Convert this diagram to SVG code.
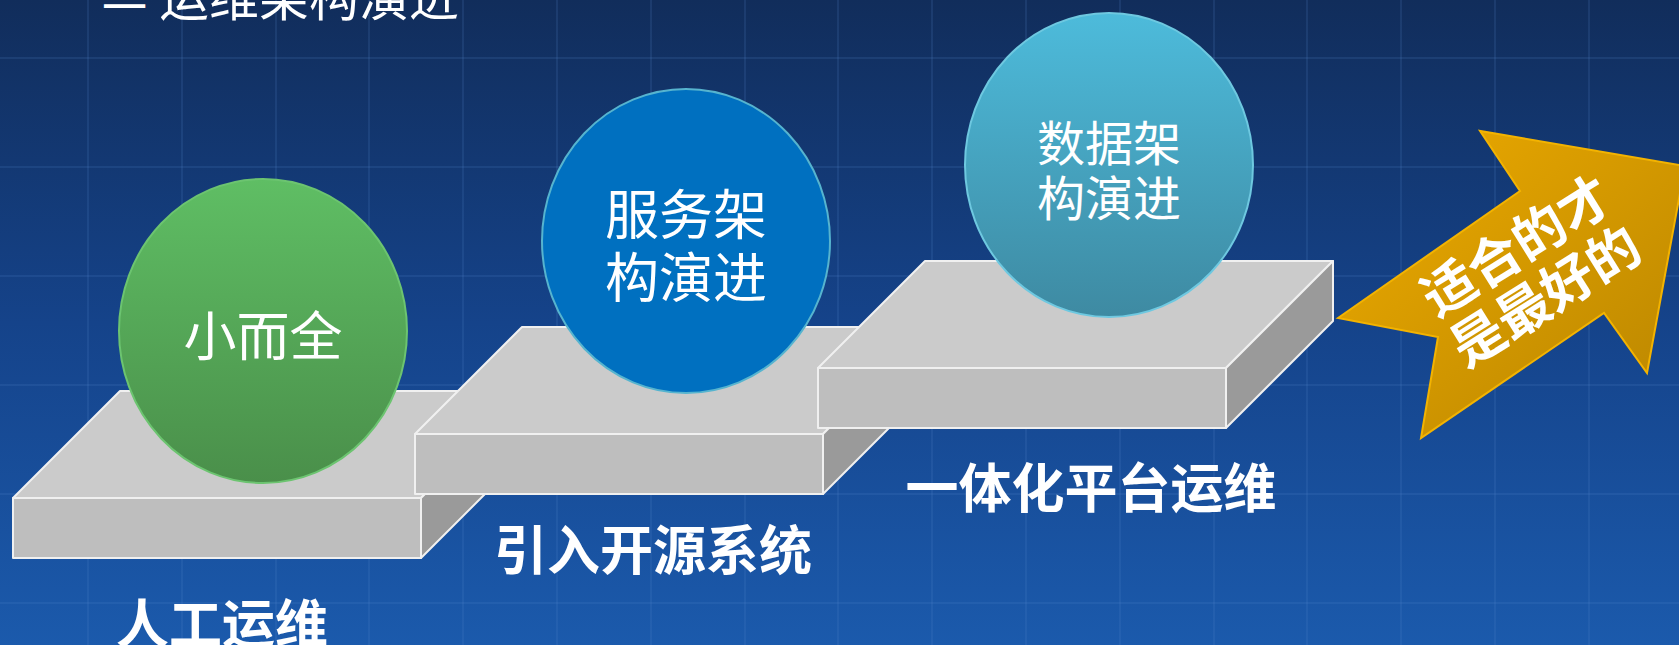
<svg xmlns="http://www.w3.org/2000/svg" xmlns:xlink="http://www.w3.org/1999/xlink" width="1679" height="645" viewBox="0 0 1679 645">
  <style>
    .cjk { font-family: "Noto Sans CJK SC", "Noto Sans", sans-serif; fill: #ffffff; }
    .title { font-size: 50px; font-weight: 400; }
    .bubble { font-weight: 400; text-anchor: middle; dominant-baseline: central; }
    .label { font-size: 53px; font-weight: 700; text-anchor: middle; dominant-baseline: central; }
    .gridline { stroke: #5a8ad0; stroke-opacity: 0.16; stroke-width: 2; }
    .slab-top { fill: #cbcbcb; }
    .slab-front { fill: #bebebe; }
    .slab-side { fill: #9a9a9a; }
    .slab-edge { stroke: #f0f0f0; stroke-width: 2; stroke-linejoin: round; }
  </style>
  <defs>
    <linearGradient id="bg" x1="0" y1="0" x2="0" y2="1">
      <stop offset="0" stop-color="#112d5b"/>
      <stop offset="0.5" stop-color="#15438a"/>
      <stop offset="1" stop-color="#1b5aac"/>
    </linearGradient>
    <linearGradient id="greenFill" x1="0" y1="0" x2="0" y2="1">
      <stop offset="0" stop-color="#5fbe64"/>
      <stop offset="1" stop-color="#4a8f4a"/>
    </linearGradient>
    <linearGradient id="tealFill" x1="0" y1="0" x2="0" y2="1">
      <stop offset="0" stop-color="#4dbbdb"/>
      <stop offset="1" stop-color="#3e8aa2"/>
    </linearGradient>
    <linearGradient id="goldFill" x1="0" y1="0" x2="1" y2="1">
      <stop offset="0" stop-color="#eeab00"/>
      <stop offset="1" stop-color="#b88500"/>
    </linearGradient>
    <!-- one stair slab: front face top-left at the origin, 408 wide, 60 high, 107 deep -->
    <symbol id="slab" overflow="visible">
      <path class="slab-top slab-edge" d="M0,0 L107,-107 L515,-107 L408,0 Z"/>
      <rect class="slab-front slab-edge" x="0" y="0" width="408" height="60"/>
      <path class="slab-side slab-edge" d="M408,0 L515,-107 L515,-47 L408,60 Z"/>
    </symbol>
  </defs>

  <!-- backdrop with faint grid -->
  <rect x="0" y="0" width="1679" height="645" fill="url(#bg)"/>
  <g id="grid" class="gridline">
    <line x1="88" y1="0" x2="88" y2="645"/>
    <line x1="182" y1="0" x2="182" y2="645"/>
    <line x1="276" y1="0" x2="276" y2="645"/>
    <line x1="369" y1="0" x2="369" y2="645"/>
    <line x1="463" y1="0" x2="463" y2="645"/>
    <line x1="557" y1="0" x2="557" y2="645"/>
    <line x1="651" y1="0" x2="651" y2="645"/>
    <line x1="745" y1="0" x2="745" y2="645"/>
    <line x1="838" y1="0" x2="838" y2="645"/>
    <line x1="932" y1="0" x2="932" y2="645"/>
    <line x1="1026" y1="0" x2="1026" y2="645"/>
    <line x1="1120" y1="0" x2="1120" y2="645"/>
    <line x1="1214" y1="0" x2="1214" y2="645"/>
    <line x1="1307" y1="0" x2="1307" y2="645"/>
    <line x1="1401" y1="0" x2="1401" y2="645"/>
    <line x1="1495" y1="0" x2="1495" y2="645"/>
    <line x1="1589" y1="0" x2="1589" y2="645"/>
    <line x1="0" y1="58" x2="1679" y2="58"/>
    <line x1="0" y1="167" x2="1679" y2="167"/>
    <line x1="0" y1="276" x2="1679" y2="276"/>
    <line x1="0" y1="385" x2="1679" y2="385"/>
    <line x1="0" y1="494" x2="1679" y2="494"/>
    <line x1="0" y1="603" x2="1679" y2="603"/>
  </g>

  <!-- heading, cut by the top edge -->
  <g id="heading" class="cjk title">
    <text x="102" y="24" font-size="45">一</text>
    <text x="159" y="16">运维架构演进</text>
  </g>

  <!-- stage 1 -->
  <g id="stage-1">
    <use xlink:href="#slab" x="13" y="498"/>
    <ellipse cx="263" cy="331" rx="144" ry="152" fill="url(#greenFill)" stroke="#6cc470" stroke-width="2"/>
    <text class="cjk bubble" x="263" y="333" font-size="53">小而全</text>
    <text class="cjk label" x="222" y="621" font-size="45">人工运维</text>
  </g>

  <!-- stage 2 -->
  <g id="stage-2">
    <use xlink:href="#slab" x="415" y="434"/>
    <ellipse cx="686" cy="241" rx="144" ry="152" fill="#0070c0" stroke="#56b4cf" stroke-width="2"/>
    <text class="cjk bubble" x="686" y="211" font-size="54">服务架</text>
    <text class="cjk bubble" x="686" y="274" font-size="54">构演进</text>
    <text class="cjk label" x="653" y="547">引入开源系统</text>
  </g>

  <!-- stage 3 -->
  <g id="stage-3">
    <use xlink:href="#slab" x="818" y="368"/>
    <ellipse cx="1109" cy="165" rx="144" ry="152" fill="url(#tealFill)" stroke="#6ec8e0" stroke-width="2"/>
    <text class="cjk bubble" x="1109" y="140" font-size="48">数据架</text>
    <text class="cjk bubble" x="1109" y="195" font-size="48">构演进</text>
    <text class="cjk label" x="1091" y="485">一体化平台运维</text>
  </g>

  <!-- closing arrow -->
  <g id="outlook">
    <polygon points="1338,318 1520,191 1480,131 1685,166 1647,373 1604,313 1421,438 1438,337"
             fill="url(#goldFill)" stroke="#f3b300" stroke-width="2" stroke-linejoin="miter"/>
    <g transform="translate(1527,274) rotate(-32)">
      <text class="cjk label" x="6" y="-33" font-size="45">适合的才</text>
      <text class="cjk label" x="4" y="25" font-size="45">是最好的</text>
    </g>
  </g>

  <g id="connectors"/>
</svg>
